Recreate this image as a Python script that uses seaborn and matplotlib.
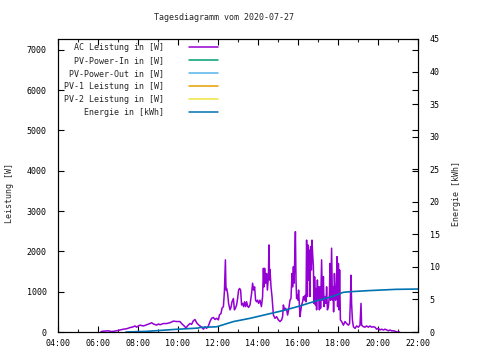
import matplotlib
matplotlib.use("Agg")
import matplotlib.pyplot as plt
from matplotlib.lines import Line2D
from matplotlib.ticker import MultipleLocator, FuncFormatter
import pandas as pd
import seaborn as sns

title = "Tagesdiagramm vom 2020-07-27"
series_labels = ["AC Leistung in [W]", "PV-Power-In in [W]", "PV-Power-Out in [W]",
                 "PV-1 Leistung in [W]", "PV-2 Leistung in [W]", "Energie in [kWh]"]
series_colors = ["#9400d3", "#009e73", "#56b4e9", "#e69f00", "#f0e442", "#0072b2"]
y_label = "Leistung [W]"
y2_label = "Energie [kWh]"

# AC power (hours of day, watts)
ac_hours = [6.15, 6.27, 6.52, 6.68, 6.93, 7.10, 7.27, 7.43, 7.60, 7.77, 7.85, 7.93, 8.02, 8.10,
            8.27, 8.43, 8.60, 8.68, 8.77, 8.93, 9.02, 9.10, 9.27, 9.43, 9.60, 9.77, 9.93, 10.10,
            10.18, 10.35, 10.40, 10.47, 10.60, 10.68, 10.77, 10.85, 10.93, 11.02, 11.10, 11.18,
            11.27, 11.35, 11.43, 11.52,
            11.60, 11.68, 11.77, 11.85, 11.93, 12.02, 12.07, 12.15, 12.20, 12.27, 12.32, 12.37,
            12.40, 12.43, 12.48, 12.53, 12.60, 12.65, 12.70, 12.77, 12.82, 12.87, 12.93, 12.98,
            13.03, 13.08, 13.13, 13.18, 13.23, 13.28, 13.33, 13.38, 13.43, 13.48, 13.53, 13.60,
            13.68, 13.73, 13.78, 13.83, 13.88, 13.93, 13.98, 14.03, 14.10, 14.17, 14.23, 14.27,
            14.30, 14.33, 14.38, 14.43, 14.47, 14.52, 14.55, 14.58,
            14.60, 14.65, 14.70, 14.77, 14.85, 14.93, 15.02, 15.10, 15.18, 15.23, 15.27, 15.32,
            15.37, 15.43, 15.48, 15.53, 15.60, 15.65, 15.70, 15.73, 15.77, 15.80, 15.83, 15.87,
            15.90, 15.93, 15.97, 16.00, 16.03, 16.07, 16.10, 16.13, 16.18, 16.23, 16.27, 16.32,
            16.37, 16.40, 16.43, 16.47, 16.50, 16.53, 16.57, 16.60, 16.63, 16.67, 16.70, 16.73,
            16.77, 16.80, 16.83, 16.87, 16.90, 16.93, 16.97, 17.00, 17.03, 17.07, 17.10, 17.13,
            17.18, 17.22, 17.27, 17.30, 17.35, 17.40, 17.43, 17.47, 17.52, 17.57, 17.60, 17.63,
            17.68, 17.72, 17.75, 17.78, 17.82,
            17.85, 17.88, 17.92, 17.95, 17.98, 18.02, 18.05, 18.08, 18.12, 18.18, 18.27, 18.35,
            18.43, 18.52, 18.58, 18.62, 18.65, 18.68, 18.72, 18.77, 18.85, 18.93, 19.02, 19.10,
            19.15, 19.18, 19.27, 19.35, 19.43, 19.52, 19.60, 19.68, 19.77, 19.85, 19.93, 20.02,
            20.10, 20.18, 20.27, 20.35, 20.43, 20.52, 20.60, 20.68, 20.77, 20.85, 20.93, 21.02,
            21.08]
ac_watts = [10, 20, 30, 10, 30, 50, 70, 80, 110, 130, 150, 120, 150, 170,
            150, 180, 210, 230, 200, 170, 200, 180, 210, 210, 230, 270, 260, 260,
            210, 130, 90, 150, 210, 190, 280, 310, 230, 180, 150, 120,
            70, 130, 90, 150,
            260, 340, 360, 310, 340, 300, 420, 460, 590, 630, 1000, 1790,
            1040, 1080, 960, 710, 550, 610, 750, 830, 550, 590, 670, 830,
            1040, 1080, 1040, 670, 710, 630, 750, 630, 750, 640, 610, 670,
            960, 1210, 1040, 1120, 790, 750, 790, 710, 790, 630, 880, 1580,
            1120, 1580, 1210, 1450, 1040, 1370, 2160, 1290,
            1550, 1120, 880, 420, 340, 380, 300, 260, 300, 380, 670, 550,
            590, 550, 420, 550, 790, 830, 1450, 1120, 1620, 1210, 1700, 2490,
            1290, 830, 920, 790, 1040, 670, 380, 500, 670, 750, 880, 790,
            920, 750, 2280, 880, 2160, 1290, 2030, 880, 2120, 1540, 2280, 1950,
            1620, 710, 1370, 670, 1080, 550, 1290, 790, 1120, 550, 1120, 590,
            1790, 790, 1370, 630, 880, 710, 1120, 550, 630, 920, 1700, 790,
            2080, 790, 1120, 500, 1450,
            1040, 790, 1120, 1870, 630, 1700, 550, 1540, 300, 260, 170, 260,
            210, 170, 210, 790, 1410, 710, 300, 130, 90, 150, 120, 170,
            710, 170, 130, 120, 150, 120, 150, 120, 130, 120, 70, 90,
            50, 70, 50, 70, 50, 30, 50, 30, 30, 20, 0, 0,
            0]

# Energy (hours of day, kWh)
energy_hours = [7.40, 8.45, 9.85, 11.00, 11.10, 11.93, 12.77, 13.60, 14.43, 15.27, 16.10,
                16.93, 17.77, 18.27, 18.68, 19.50, 20.90, 22.00]
energy_kwh = [0.0, 0.1, 0.4, 0.6, 0.7, 0.8, 1.6, 2.1, 2.7, 3.3, 4.0,
              4.8, 5.5, 6.1, 6.2, 6.35, 6.55, 6.6]

sns.set_style("white")
plt.rcParams["font.family"] = ["DejaVu Sans Mono"]
plt.rcParams["font.size"] = 6

W, H = 480, 360
fig = plt.figure(figsize=(4.8, 3.6), dpi=100)
ax = fig.add_axes([58 / W, (H - 332) / H, 360 / W, 293 / H])
ax2 = ax.twinx()

ac_df = pd.DataFrame({"hour": ac_hours, "watt": ac_watts})
en_df = pd.DataFrame({"hour": energy_hours, "kwh": energy_kwh})

sns.lineplot(data=ac_df, x="hour", y="watt", ax=ax, color=series_colors[0],
             linewidth=1.1, estimator=None, sort=False, legend=False)
sns.lineplot(data=en_df, x="hour", y="kwh", ax=ax2, color=series_colors[5],
             linewidth=1.2, estimator=None, sort=False, legend=False)

ax.set_xlim(4, 22)
ax.set_ylim(0, 7270)
ax2.set_ylim(0, 45)
ax.xaxis.set_major_locator(MultipleLocator(2))
ax.xaxis.set_minor_locator(MultipleLocator(1))
ax.xaxis.set_major_formatter(FuncFormatter(lambda v, p: f"{int(round(v)):02d}:00"))
ax.yaxis.set_major_locator(MultipleLocator(1000))
ax2.yaxis.set_major_locator(MultipleLocator(5))

ax.set_xlabel("")
ax.set_ylabel(y_label)
ax2.set_ylabel(y2_label)
ax.yaxis.set_label_coords((14 - 58) / 360, (332 - 193) / 293)
ax2.yaxis.set_label_coords((452 - 58) / 360, (332 - 194) / 293)

for a in (ax, ax2):
    for s in a.spines.values():
        s.set_visible(True)
        s.set_color("black")
        s.set_linewidth(0.8)

ax.tick_params(axis="x", which="major", direction="in", length=4.5, width=0.8,
               top=True, bottom=True, pad=5, labelsize=6, colors="black")
ax.tick_params(axis="x", which="minor", direction="in", length=2.5, width=0.8,
               top=True, bottom=True)
ax.tick_params(axis="y", which="major", direction="in", length=4.5, width=0.8,
               left=True, right=True, pad=8, labelsize=6, colors="black")
ax2.tick_params(axis="y", which="major", direction="in", length=4.5, width=0.8,
                right=True, left=False, pad=8.5, labelsize=6, colors="black")

fig.suptitle(title, x=223.5 / W, y=1 - 18 / H, va="center", fontsize=6)

handles = [Line2D([], [], color=c, linewidth=1.1) for c in series_colors]
labels = [l.rjust(20) for l in series_labels]
ax2.legend(handles, labels, loc="upper left", bbox_to_anchor=(6 / 360, 1 - 3.8 / 293),
           frameon=False, borderpad=0, borderaxespad=0, markerfirst=False,
           handlelength=3.5, handletextpad=3.0, labelspacing=0.49, fontsize=6)

fig.savefig("out.png", dpi=100)
